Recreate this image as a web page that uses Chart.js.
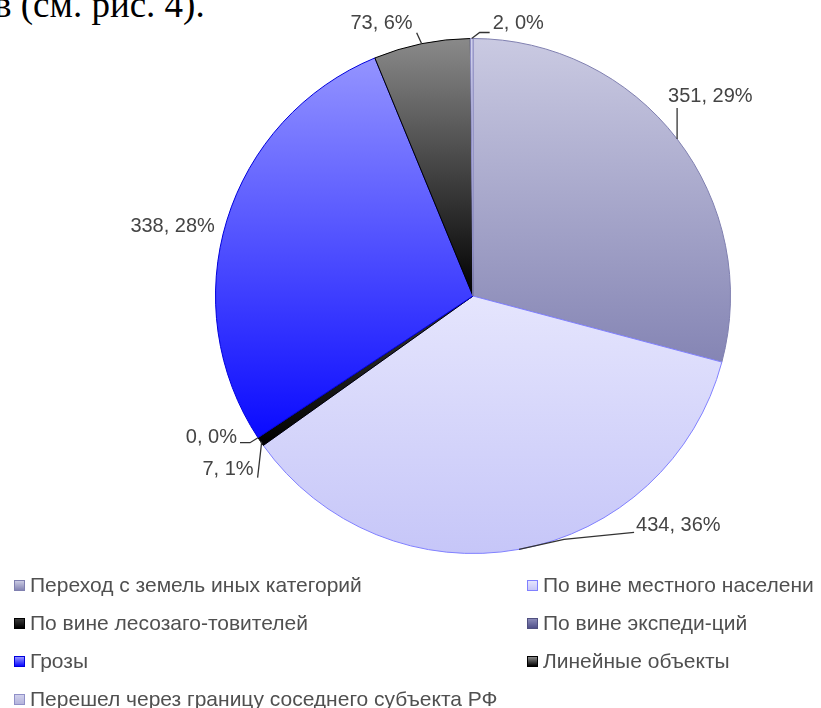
<!DOCTYPE html>
<html lang="ru">
<head>
<meta charset="utf-8">
<title>Причины лесных пожаров</title>
<script src="https://cdn.jsdelivr.net/npm/chart.js@4.4.1/dist/chart.umd.min.js"></script>
<style>
  html, body { margin: 0; padding: 0; background: #fff; }
  .page { position: relative; width: 821px; height: 708px; overflow: hidden; }
  .page canvas { position: absolute; left: 0; top: 0; }
  .lead { position: absolute; left: -6px; top: -14px; margin: 0; font: 37px/1 "Liberation Serif", "Times New Roman", serif; color: #000; white-space: nowrap; }
  .legend { position: absolute; left: 0; top: 0; margin: 0; padding: 0; list-style: none; }
  .legend li { position: absolute; display: flex; align-items: center; white-space: nowrap;
    font: 21px "Liberation Sans", Arial, sans-serif; color: #505050; }
  .legend i { display: inline-block; width: 9px; height: 9px; margin-right: 5px; border: 1px solid; }
</style>
</head>
<body>
<div class="page">
  <p class="lead">в (см. рис. 4).</p>
  <canvas id="causesChart" width="821" height="708"></canvas>
  <ul class="legend" id="causesLegend"></ul>
</div>
<script>
const causes = [
  'Переход с земель иных категорий',
  'По вине местного населени',
  'По вине лесозаго-товителей',
  'По вине экспеди-ций',
  'Грозы',
  'Линейные объекты',
  'Перешел через границу соседнего субъекта РФ'
];
const fireCounts = [351, 434, 7, 0, 338, 73, 2];

// slice shading: light at the top of each slice, darker at the bottom
const shadeTop = ['#cacae2', '#e5e5fd', '#3a3a3a', '#8a8ab8', '#9494ff', '#8a8a8a', '#d0d0ec'];
const shadeBottom = ['#8585b4', '#c6c6f8', '#000000', '#50508a', '#0a0aff', '#000000', '#b4b4dc'];
const edgeColors = ['#8080b0', '#8080ff', '#000000', '#505080', '#0000dd', '#000000', '#9090c8'];

// callout placement relative to the outer edge point of each slice
const callouts = [
  { leader: [[0, -31]], dx: -9, dy: -43, align: 'left' },
  { leader: [[45, -10], [115, -17]], dx: 117, dy: -24, align: 'left' },
  { leader: [[1, 1], [-3, 36]], dx: -7, dy: 28, align: 'right' },
  { leader: [[-8, 5], [-18, 5]], dx: -21, dy: 0, align: 'right' },
  { leader: [], dx: -12, dy: 6, align: 'right' },
  { leader: [[-5, -11]], dx: -9, dy: -20, align: 'right' },
  { leader: [[8, -6], [18, -6]], dx: 21, dy: -15, align: 'left' }
];

const total = fireCounts.reduce((a, b) => a + b, 0);

const shadePlugin = {
  id: 'shade',
  beforeDatasetsDraw(chart) {
    const ctx = chart.ctx;
    chart.getDatasetMeta(0).data.forEach((arc, i) => {
      const { x, y, startAngle, endAngle, outerRadius } =
        arc.getProps(['x', 'y', 'startAngle', 'endAngle', 'outerRadius'], true);
      let top = y, bottom = y;
      for (let k = 0; k <= 60; k++) {
        const a = startAngle + (endAngle - startAngle) * k / 60;
        const py = y + Math.sin(a) * outerRadius;
        top = Math.min(top, py);
        bottom = Math.max(bottom, py);
      }
      if (bottom - top < 1) bottom = top + 1;
      const g = ctx.createLinearGradient(0, top, 0, bottom);
      g.addColorStop(0, shadeTop[i]);
      g.addColorStop(1, shadeBottom[i]);
      arc.options = Object.assign({}, arc.options, { backgroundColor: g });
    });
  }
};

const calloutPlugin = {
  id: 'callouts',
  afterDatasetsDraw(chart) {
    const ctx = chart.ctx;
    chart.getDatasetMeta(0).data.forEach((arc, i) => {
      const { x, y, startAngle, endAngle, outerRadius } =
        arc.getProps(['x', 'y', 'startAngle', 'endAngle', 'outerRadius'], true);
      const mid = (startAngle + endAngle) / 2;
      const ex = x + Math.cos(mid) * outerRadius;
      const ey = y + Math.sin(mid) * outerRadius;
      const c = callouts[i];
      ctx.save();
      if (c.leader.length) {
        ctx.beginPath();
        ctx.moveTo(ex, ey);
        c.leader.forEach(([dx, dy]) => ctx.lineTo(ex + dx, ey + dy));
        ctx.strokeStyle = '#333';
        ctx.lineWidth = 1.3;
        ctx.stroke();
      }
      ctx.font = '20px "Liberation Sans", Arial, sans-serif';
      ctx.fillStyle = '#444';
      ctx.textAlign = c.align;
      ctx.textBaseline = 'middle';
      const pct = Math.round(fireCounts[i] / total * 100);
      ctx.fillText(`${fireCounts[i]}, ${pct}%`, ex + c.dx, ey + c.dy);
      ctx.restore();
    });
  }
};

const chart = new Chart(document.getElementById('causesChart'), {
  type: 'pie',
  data: {
    labels: causes,
    datasets: [{
      data: fireCounts,
      backgroundColor: shadeBottom,
      borderColor: edgeColors,
      borderWidth: 1
    }]
  },
  options: {
    responsive: false,
    animation: false,
    events: [],
    layout: { padding: { left: 215, right: 90, top: 38, bottom: 154 } },
    plugins: { legend: { display: false }, tooltip: { enabled: false } }
  },
  plugins: [shadePlugin, calloutPlugin]
});

// two-column legend under the pie
const legend = document.getElementById('causesLegend');
const colLeft = [14, 527];
const rowMid = [585, 623, 661, 699];
causes.forEach((name, i) => {
  const li = document.createElement('li');
  li.style.left = colLeft[i % 2] + 'px';
  li.style.top = (rowMid[Math.floor(i / 2)] - 12) + 'px';
  const box = document.createElement('i');
  box.style.background = `linear-gradient(${shadeTop[i]}, ${shadeBottom[i]})`;
  box.style.borderColor = edgeColors[i];
  li.appendChild(box);
  li.appendChild(document.createTextNode(name));
  legend.appendChild(li);
});
</script>
</body>
</html>
